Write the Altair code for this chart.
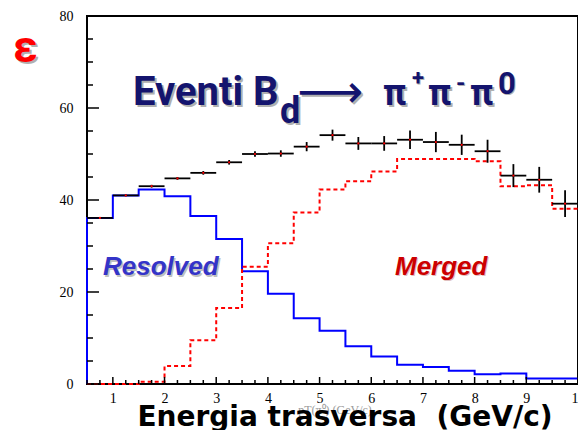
import altair as alt
import pandas as pd

# ---- data ----
bin_edges = [0.5 + 0.5 * i for i in range(20)]          # 0.5 ... 10.0
resolved = [36.1, 41.0, 42.3, 40.8, 36.5, 31.5, 24.5, 19.6, 14.3, 11.6,
            8.2, 6.0, 4.2, 3.7, 2.9, 2.1, 2.3, 1.2, 1.2]
merged = [0.0, 0.0, 0.5, 3.9, 9.5, 16.5, 25.5, 30.6, 37.3, 42.3,
          44.1, 46.2, 48.9, 48.9, 48.9, 48.4, 43.0, 43.2, 38.1]
total = [36.1, 41.0, 43.0, 44.7, 45.9, 48.2, 50.0, 50.1, 51.6, 54.1,
         52.3, 52.3, 53.1, 52.6, 52.0, 50.6, 45.3, 44.4, 39.2]
total_err = [0.2, 0.2, 0.3, 0.3, 0.4, 0.5, 0.6, 0.7, 1.0, 1.2,
             1.4, 1.6, 2.0, 2.2, 2.2, 2.5, 2.5, 2.8, 2.9]

x_labels = [1, 2, 3, 4, 5, 6, 7, 8, 9, 10]
y_labels = [0, 20, 40, 60, 80]
x_minor = [v / 4 for v in range(2, 41) if v % 4 != 0]
y_minor = [v for v in range(0, 81, 5) if v % 20 != 0]


def step_frame(vals):
    rows = [{"x": bin_edges[0], "y": 0.0, "o": 0}]
    for i, v in enumerate(vals):
        rows.append({"x": bin_edges[i], "y": v, "o": i + 1})
    rows.append({"x": bin_edges[-1], "y": vals[-1], "o": len(vals) + 1})
    return pd.DataFrame(rows)


centers = [(bin_edges[i] + bin_edges[i + 1]) / 2 for i in range(len(total))]
pts = pd.DataFrame({
    "xc": centers,
    "x0": bin_edges[:-1],
    "x1": bin_edges[1:],
    "y": total,
    "ylo": [t - e for t, e in zip(total, total_err)],
    "yhi": [t + e for t, e in zip(total, total_err)],
})

xscale = alt.Scale(domain=[0.5, 10], nice=False, zero=False)
yscale = alt.Scale(domain=[0, 80], nice=False, zero=True)
xaxis = alt.Axis(values=x_labels, title=None, labelPadding=7, labelFlush=False, labelOverlap=False)
yaxis = alt.Axis(values=y_labels, title=None, labelPadding=14)

X = lambda f: alt.X(f, type="quantitative", scale=xscale, axis=xaxis)
Y = lambda f: alt.Y(f, type="quantitative", scale=yscale, axis=yaxis)

blue = alt.Chart(step_frame(resolved)).mark_line(
    interpolate="step-after", color="#0000ff", strokeWidth=2
).encode(x=X("x"), y=Y("y"), order="o:Q")

red = alt.Chart(step_frame(merged)).mark_line(
    interpolate="step-after", color="#ff0000", strokeWidth=2, strokeDash=[4, 3]
).encode(x=X("x"), y=Y("y"), order="o:Q")

hbar = alt.Chart(pts).mark_rule(color="black", strokeWidth=1.8).encode(
    x=X("x0"), x2="x1", y=Y("y"))
vbar = alt.Chart(pts).mark_rule(color="black", strokeWidth=1.8).encode(
    x=X("xc"), y=Y("ylo"), y2="yhi")
dots = alt.Chart(pts).mark_point(filled=True, color="#ff0000", size=5, opacity=1).encode(
    x=X("xc"), y=Y("y"))

W, H = 491, 368
ytick_major = alt.Chart(pd.DataFrame({"v": y_labels})).mark_rule(color="black", strokeWidth=1.5).encode(
    y=Y("v"), x=alt.value(0), x2=alt.value(12))
ytick_minor = alt.Chart(pd.DataFrame({"v": y_minor})).mark_rule(color="black", strokeWidth=1.5).encode(
    y=Y("v"), x=alt.value(0), x2=alt.value(6))
xtick_major = alt.Chart(pd.DataFrame({"v": x_labels})).mark_rule(color="black", strokeWidth=1.5).encode(
    x=X("v"), y=alt.value(H), y2=alt.value(H - 7))
xtick_minor = alt.Chart(pd.DataFrame({"v": x_minor})).mark_rule(color="black", strokeWidth=1.5).encode(
    x=X("v"), y=alt.value(H), y2=alt.value(H - 4))


def txt(s, x, y, size, color, font="Roboto", weight="bold", style="normal",
        align="left", baseline="alphabetic", shadow=None, off=2):
    layers = []
    if shadow:
        layers.append(txt(s, x + off, y + off, size, shadow, font, weight, style, align, baseline))
    layers.append(
        alt.Chart(pd.DataFrame({"t": [s]})).mark_text(
            font=font, fontSize=size, fontWeight=weight, fontStyle=style,
            color=color, align=align, baseline=baseline
        ).encode(text="t:N", x=alt.value(x), y=alt.value(y))
    )
    return alt.layer(*layers) if len(layers) > 1 else layers[0]


navy = "#14146e"
sh = "#b0b0b0"
texts = [
    txt("ε", -74, 46, 44, "#ff0000", shadow=sh),
    txt("Eventi B", 46, 89, 40, navy, shadow=sh),
    txt("d", 193, 107, 36, navy, shadow=sh),
    txt("⟶", 210, 77, 46, navy, font="DejaVu Sans", weight="normal", baseline="middle", shadow=sh),
    txt("π", 296, 89, 36, navy, shadow=sh),
    txt("+", 325, 62, 22, navy, baseline="middle", shadow=sh, off=1),
    txt("π", 341, 89, 36, navy, shadow=sh),
    txt("-", 369, 68, 24, navy, baseline="middle", shadow=sh, off=1),
    txt("π", 383, 89, 36, navy, shadow=sh),
    txt("0", 411, 78, 31, navy, shadow=sh, off=1),
    txt("Resolved", 16, 259, 26, "#3434c8", font="Liberation Sans", style="italic", shadow="#c0c0c0", off=1.5),
    txt("Merged", 308, 259, 26, "#cc0000", font="Liberation Sans", style="italic", shadow="#e0c0c0", off=1),
    txt("pT(π⁰) (GeV/c)", 248, 398, 12, "#9a9a9a", font="Liberation Serif", weight="normal", align="center"),
    txt("Energia trasversa\u00a0 (GeV/c)", 258, 410, 28, "black", font="DejaVu Sans", align="center"),
]

chart = alt.layer(
    blue, red, hbar, vbar, dots,
    ytick_major, ytick_minor, xtick_major, xtick_minor,
    *texts
).properties(
    width=W, height=H,
    autosize=alt.AutoSizeParams(type="none"),
    padding={"left": 79, "top": 8, "right": 0, "bottom": 46},
).configure_view(
    stroke="black", strokeWidth=2
).configure_axis(
    labelFont="Liberation Serif", labelFontSize=14, labelColor="black",
    grid=False, ticks=False, domain=False
)

chart.save("out.html", embed_options={"renderer": "svg", "actions": False})
